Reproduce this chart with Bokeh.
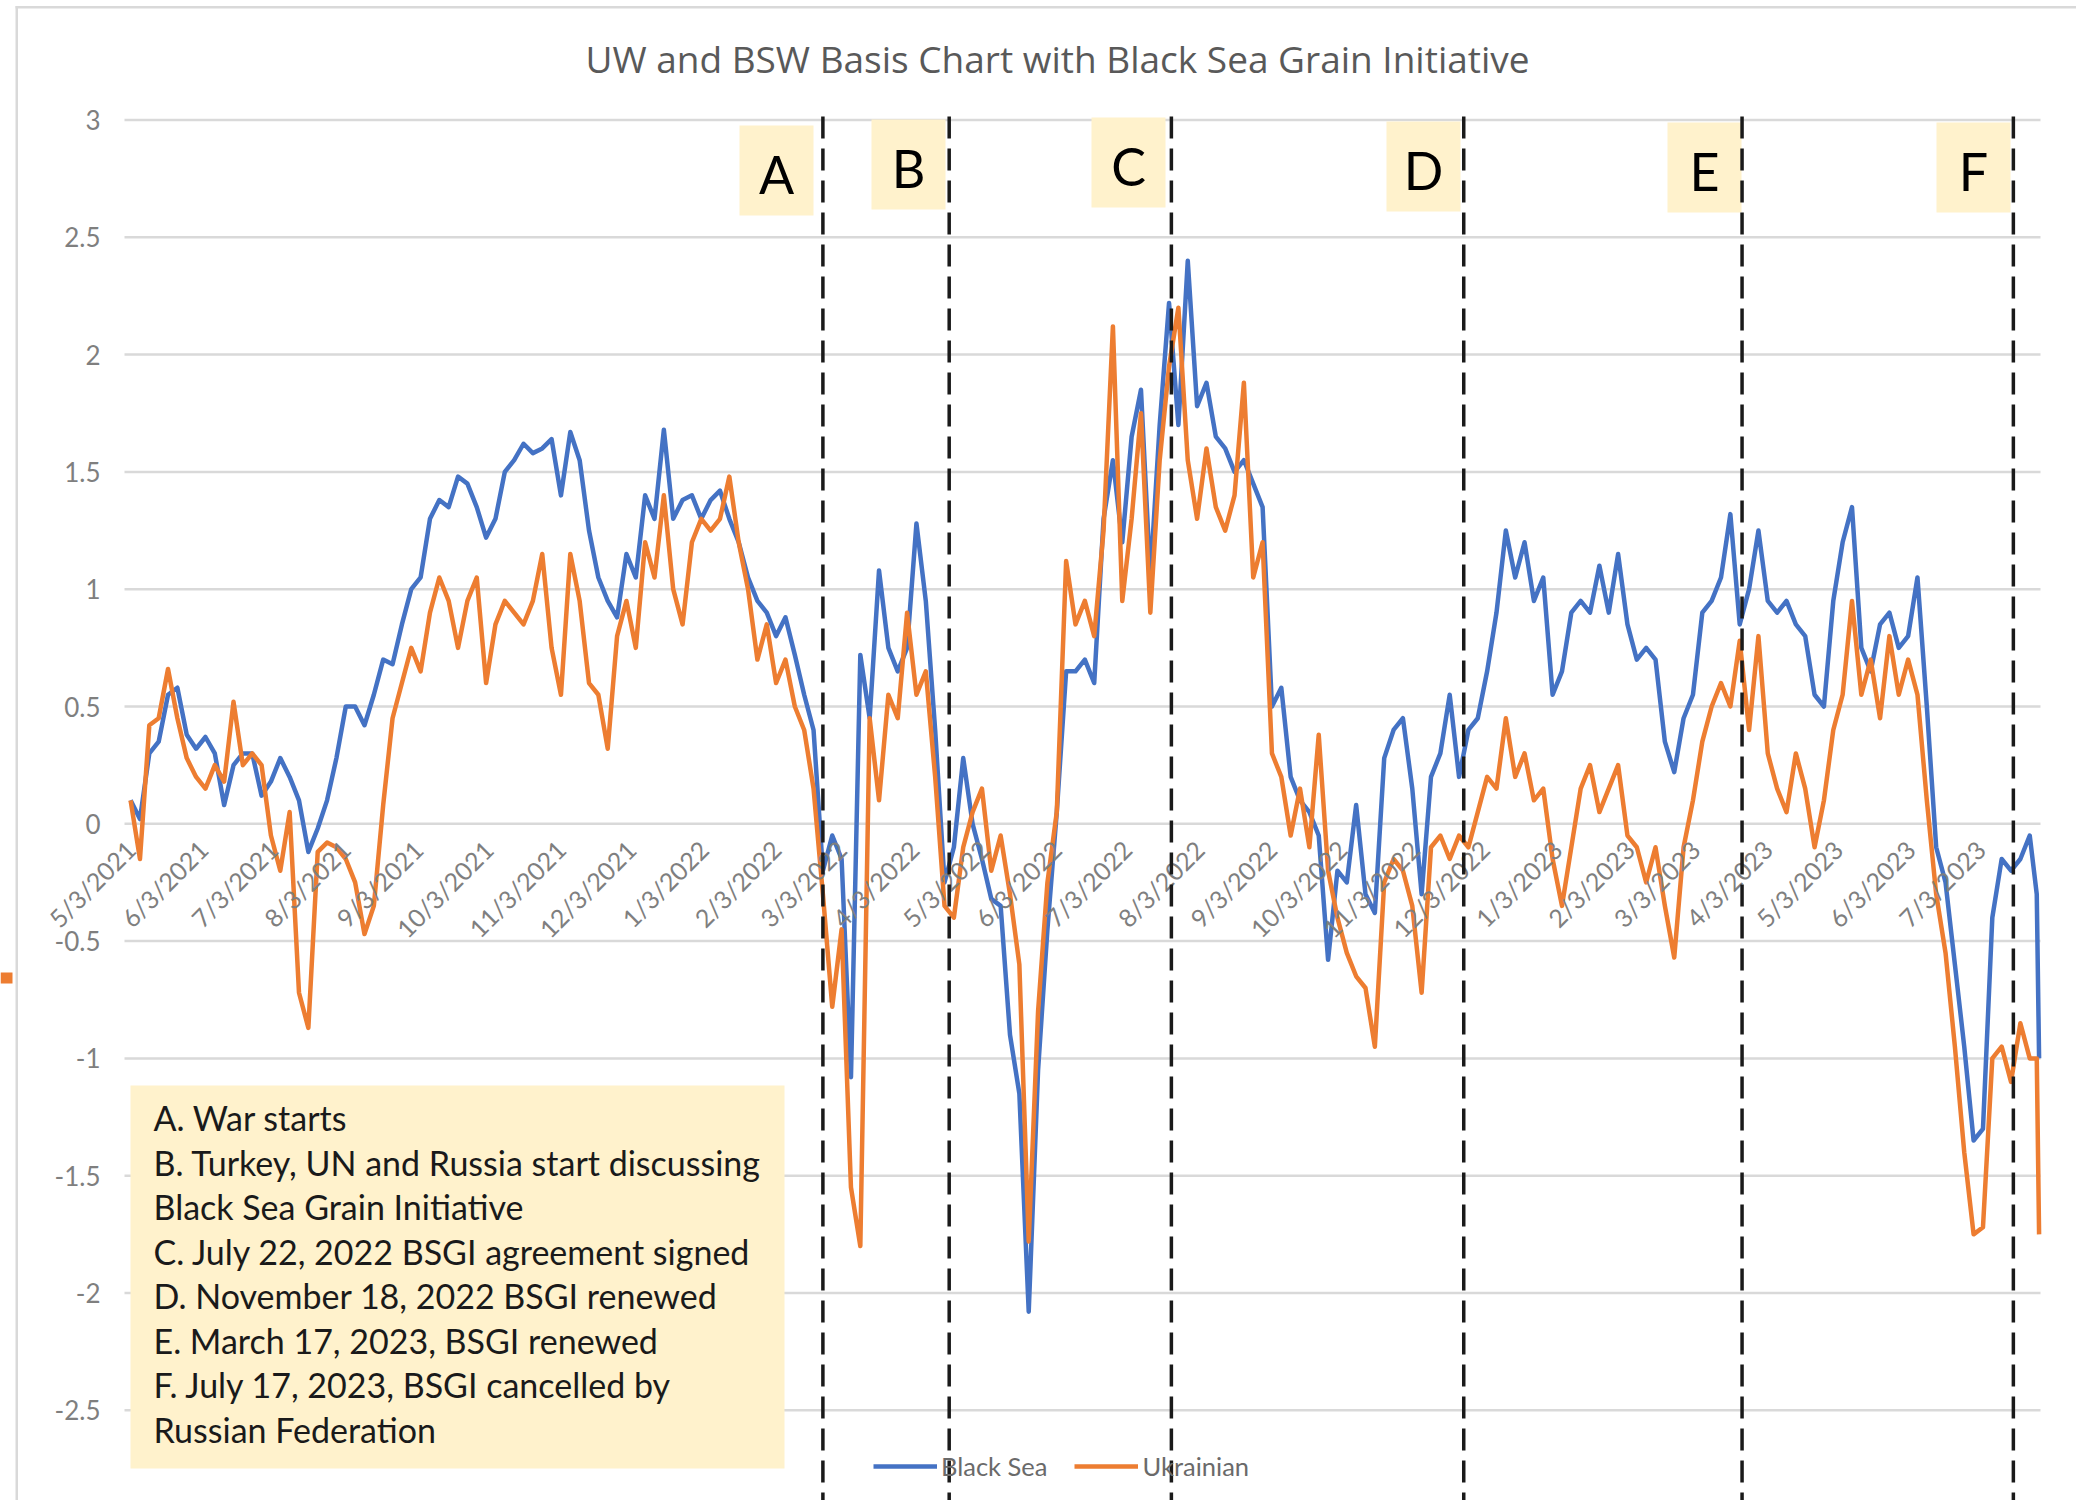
import math
from datetime import datetime, timezone

from bokeh.plotting import figure
from bokeh.models import (Range1d, FixedTicker, CustomJSTickFormatter, BoxAnnotation,
                          Label, ColumnDataSource, Legend, LegendItem, LinearAxis)
from bokeh.embed import file_html
from bokeh.resources import INLINE

# ---------------- data ----------------
dates = [
    "2021-05-03", "2021-05-07", "2021-05-11", "2021-05-15", "2021-05-19", "2021-05-23", "2021-05-27", "2021-05-31",
    "2021-06-04", "2021-06-08", "2021-06-12", "2021-06-16", "2021-06-20", "2021-06-24", "2021-06-28",
    "2021-07-02", "2021-07-06", "2021-07-10", "2021-07-14", "2021-07-18", "2021-07-22", "2021-07-26", "2021-07-30",
    "2021-08-03", "2021-08-07", "2021-08-11", "2021-08-15", "2021-08-19", "2021-08-23", "2021-08-27", "2021-08-31",
    "2021-09-04", "2021-09-08", "2021-09-12", "2021-09-16", "2021-09-20", "2021-09-24", "2021-09-28",
    "2021-10-02", "2021-10-06", "2021-10-10", "2021-10-14", "2021-10-18", "2021-10-22", "2021-10-26", "2021-10-30",
    "2021-11-03", "2021-11-07", "2021-11-11", "2021-11-15", "2021-11-19", "2021-11-23", "2021-11-27",
    "2021-12-01", "2021-12-05", "2021-12-09", "2021-12-13", "2021-12-17", "2021-12-21", "2021-12-25", "2021-12-29",
    "2022-01-02", "2022-01-06", "2022-01-10", "2022-01-14", "2022-01-18", "2022-01-22", "2022-01-26", "2022-01-30",
    "2022-02-03", "2022-02-07", "2022-02-11", "2022-02-15", "2022-02-19", "2022-02-23", "2022-02-27",
    "2022-03-03", "2022-03-07", "2022-03-11", "2022-03-15", "2022-03-19", "2022-03-23", "2022-03-27", "2022-03-31",
    "2022-04-04", "2022-04-08", "2022-04-12", "2022-04-16", "2022-04-20", "2022-04-24", "2022-04-28",
    "2022-05-02", "2022-05-06", "2022-05-10", "2022-05-14", "2022-05-18", "2022-05-22", "2022-05-26", "2022-05-30",
    "2022-06-03", "2022-06-07", "2022-06-11", "2022-06-15", "2022-06-19", "2022-06-23", "2022-06-27",
    "2022-07-01", "2022-07-05", "2022-07-09", "2022-07-13", "2022-07-17", "2022-07-21", "2022-07-25", "2022-07-29",
    "2022-08-02", "2022-08-06", "2022-08-10", "2022-08-14", "2022-08-18", "2022-08-22", "2022-08-26", "2022-08-30",
    "2022-09-03", "2022-09-07", "2022-09-11", "2022-09-15", "2022-09-19", "2022-09-23", "2022-09-27",
    "2022-10-01", "2022-10-05", "2022-10-09", "2022-10-13", "2022-10-17", "2022-10-21", "2022-10-25", "2022-10-29",
    "2022-11-02", "2022-11-06", "2022-11-10", "2022-11-14", "2022-11-18", "2022-11-22", "2022-11-26", "2022-11-30",
    "2022-12-04", "2022-12-08", "2022-12-12", "2022-12-16", "2022-12-20", "2022-12-24", "2022-12-28",
    "2023-01-01", "2023-01-05", "2023-01-09", "2023-01-13", "2023-01-17", "2023-01-21", "2023-01-25", "2023-01-29",
    "2023-02-02", "2023-02-06", "2023-02-10", "2023-02-14", "2023-02-18", "2023-02-22", "2023-02-26",
    "2023-03-02", "2023-03-06", "2023-03-10", "2023-03-14", "2023-03-18", "2023-03-22", "2023-03-26", "2023-03-30",
    "2023-04-03", "2023-04-07", "2023-04-11", "2023-04-15", "2023-04-19", "2023-04-23", "2023-04-27",
    "2023-05-01", "2023-05-05", "2023-05-09", "2023-05-13", "2023-05-17", "2023-05-21", "2023-05-25", "2023-05-29",
    "2023-06-02", "2023-06-06", "2023-06-10", "2023-06-14", "2023-06-18", "2023-06-22", "2023-06-26", "2023-06-30",
    "2023-07-04", "2023-07-08", "2023-07-12", "2023-07-16", "2023-07-20", "2023-07-24", "2023-07-27", "2023-07-28",
]

black_sea = [
    0.10, 0.02, 0.30, 0.35, 0.55, 0.58, 0.38, 0.32,
    0.37, 0.30, 0.08, 0.25, 0.30, 0.30, 0.12,
    0.18, 0.28, 0.20, 0.10, -0.12, -0.02, 0.10, 0.28,
    0.50, 0.50, 0.42, 0.55, 0.70, 0.68, 0.85, 1.00,
    1.05, 1.30, 1.38, 1.35, 1.48, 1.45, 1.35,
    1.22, 1.30, 1.50, 1.55, 1.62, 1.58, 1.60, 1.64,
    1.40, 1.67, 1.55, 1.25, 1.05, 0.95, 0.88,
    1.15, 1.05, 1.40, 1.30, 1.68, 1.30, 1.38, 1.40,
    1.30, 1.38, 1.42, 1.30, 1.20, 1.05, 0.95, 0.90,
    0.80, 0.88, 0.72, 0.55, 0.40, -0.20, -0.05,
    -0.15, -1.08, 0.72, 0.45, 1.08, 0.75, 0.65, 0.75,
    1.28, 0.95, 0.40, -0.25, -0.10, 0.28, 0.00,
    -0.15, -0.32, -0.35, -0.90, -1.15, -2.08, -1.05, -0.45,
    0.05, 0.65, 0.65, 0.70, 0.60, 1.30, 1.55,
    1.20, 1.65, 1.85, 1.05, 1.70, 2.22, 1.70, 2.40,
    1.78, 1.88, 1.65, 1.60, 1.50, 1.55, 1.45, 1.35,
    0.50, 0.58, 0.20, 0.10, 0.05, -0.05, -0.58,
    -0.20, -0.25, 0.08, -0.30, -0.38, 0.28, 0.40, 0.45,
    0.15, -0.30, 0.20, 0.30, 0.55, 0.20, 0.40, 0.45,
    0.65, 0.90, 1.25, 1.05, 1.20, 0.95, 1.05,
    0.55, 0.65, 0.90, 0.95, 0.90, 1.10, 0.90, 1.15,
    0.85, 0.70, 0.75, 0.70, 0.35, 0.22, 0.45,
    0.55, 0.90, 0.95, 1.05, 1.32, 0.85, 1.00, 1.25,
    0.95, 0.90, 0.95, 0.85, 0.80, 0.55, 0.50,
    0.95, 1.20, 1.35, 0.75, 0.65, 0.85, 0.90, 0.75,
    0.80, 1.05, 0.50, -0.10, -0.25, -0.60, -0.95, -1.35,
    -1.30, -0.40, -0.15, -0.20, -0.15, -0.05, -0.30, -1.00,
]

ukrainian = [
    0.10, -0.15, 0.42, 0.45, 0.66, 0.45, 0.28, 0.20,
    0.15, 0.25, 0.18, 0.52, 0.25, 0.30, 0.25,
    -0.05, -0.20, 0.05, -0.72, -0.87, -0.12, -0.08, -0.10,
    -0.15, -0.25, -0.47, -0.35, 0.08, 0.45, 0.60, 0.75,
    0.65, 0.90, 1.05, 0.95, 0.75, 0.95, 1.05,
    0.60, 0.85, 0.95, 0.90, 0.85, 0.95, 1.15, 0.75,
    0.55, 1.15, 0.95, 0.60, 0.55, 0.32, 0.80,
    0.95, 0.75, 1.20, 1.05, 1.40, 1.00, 0.85, 1.20,
    1.30, 1.25, 1.30, 1.48, 1.20, 1.00, 0.70, 0.85,
    0.60, 0.70, 0.50, 0.40, 0.15, -0.30, -0.78,
    -0.45, -1.55, -1.80, 0.45, 0.10, 0.55, 0.45, 0.90,
    0.55, 0.65, 0.20, -0.35, -0.40, -0.10, 0.05,
    0.15, -0.20, -0.05, -0.30, -0.60, -1.78, -0.80, -0.25,
    0.05, 1.12, 0.85, 0.95, 0.80, 1.25, 2.12,
    0.95, 1.30, 1.75, 0.90, 1.55, 1.95, 2.20, 1.55,
    1.30, 1.60, 1.35, 1.25, 1.40, 1.88, 1.05, 1.20,
    0.30, 0.20, -0.05, 0.15, -0.10, 0.38, -0.20,
    -0.40, -0.55, -0.65, -0.70, -0.95, -0.25, -0.15, -0.20,
    -0.35, -0.72, -0.10, -0.05, -0.15, -0.05, -0.10, 0.05,
    0.20, 0.15, 0.45, 0.20, 0.30, 0.10, 0.15,
    -0.15, -0.35, -0.10, 0.15, 0.25, 0.05, 0.15, 0.25,
    -0.05, -0.10, -0.25, -0.10, -0.35, -0.57, -0.10,
    0.10, 0.35, 0.50, 0.60, 0.50, 0.78, 0.40, 0.80,
    0.30, 0.15, 0.05, 0.30, 0.15, -0.10, 0.10,
    0.40, 0.55, 0.95, 0.55, 0.70, 0.45, 0.80, 0.55,
    0.70, 0.55, 0.10, -0.30, -0.55, -0.95, -1.40, -1.75,
    -1.72, -1.00, -0.95, -1.10, -0.85, -1.00, -1.00, -1.75,
]

tick_dates = [
    "2021-05-03", "2021-06-03", "2021-07-03", "2021-08-03", "2021-09-03", "2021-10-03", "2021-11-03",
    "2021-12-03", "2022-01-03", "2022-02-03", "2022-03-03", "2022-04-03", "2022-05-03", "2022-06-03",
    "2022-07-03", "2022-08-03", "2022-09-03", "2022-10-03", "2022-11-03", "2022-12-03", "2023-01-03",
    "2023-02-03", "2023-03-03", "2023-04-03", "2023-05-03", "2023-06-03", "2023-07-03",
]
tick_labels = [
    "5/3/2021", "6/3/2021", "7/3/2021", "8/3/2021", "9/3/2021", "10/3/2021", "11/3/2021",
    "12/3/2021", "1/3/2022", "2/3/2022", "3/3/2022", "4/3/2022", "5/3/2022", "6/3/2022",
    "7/3/2022", "8/3/2022", "9/3/2022", "10/3/2022", "11/3/2022", "12/3/2022", "1/3/2023",
    "2/3/2023", "3/3/2023", "4/3/2023", "5/3/2023", "6/3/2023", "7/3/2023",
]
y_ticks = [-2.5, -2, -1.5, -1, -0.5, 0, 0.5, 1, 1.5, 2, 2.5, 3]

event_letters = ["A", "B", "C", "D", "E", "F"]
event_dates = ["2022-02-23", "2022-04-18", "2022-07-22", "2022-11-24", "2023-03-23", "2023-07-17"]

notes = [
    "A. War starts",
    "B. Turkey, UN and Russia start discussing",
    "Black Sea Grain Initiative",
    "C. July 22, 2022 BSGI agreement signed",
    "D. November  18, 2022 BSGI renewed",
    "E. March 17, 2023, BSGI renewed",
    "F. July 17, 2023, BSGI cancelled by",
    "Russian Federation",
]
title_text = "UW and BSW Basis Chart with Black Sea Grain Initiative"
series_names = ["Black Sea", "Ukrainian"]

# ---------------- layout / style ----------------
DAY = 86400000.0


def ms(s):
    return datetime.strptime(s, "%Y-%m-%d").replace(tzinfo=timezone.utc).timestamp() * 1000.0


W, H = 2076, 1500
BASE = ms("2021-05-03")
BASE_PX = 130.1          # page x of the first date
PX_PER_DAY = 2.33884
Y3_PX = 119.5            # page y of the value 3
PX_PER_UNIT = 234.6


def px_x(page_x):  # page pixel -> x data value (for annotation placement)
    return BASE + (page_x - BASE_PX) / PX_PER_DAY * DAY


def px_y(page_y):  # page pixel -> y data value (for annotation placement)
    return 3 - (page_y - Y3_PX) / PX_PER_UNIT


PLOT_L, PLOT_R = 124, 2040   # plot-area edges (page px)

BLUE, ORANGE = "#4472C4", "#ED7D31"
BOX_FILL = "#FFF2CC"
FONT = "Lato"
GRAY = "#7f7f7f"
GRID = "#d9d9d9"

p = figure(width=W, height=H, output_backend="svg", toolbar_location=None,
           x_range=Range1d(px_x(0), px_x(W)), y_range=Range1d(px_y(H), px_y(0)),
           x_axis_location=None, y_axis_location=None,
           min_border_left=0, min_border_right=0, min_border_top=0, min_border_bottom=0,
           background_fill_color="white", border_fill_color="white",
           outline_line_color=None)
p.xgrid.visible = False
p.ygrid.visible = False

# chart border (top / left) and the slide remnant on the far left
p.add_layout(BoxAnnotation(left=px_x(15), right=px_x(17.5), top=px_y(5.5), bottom=px_y(H),
                           fill_color=GRID, fill_alpha=1.0, line_color=None, level="underlay"))
p.add_layout(BoxAnnotation(left=px_x(15), right=px_x(W), top=px_y(5.5), bottom=px_y(8),
                           fill_color=GRID, fill_alpha=1.0, line_color=None, level="underlay"))
p.add_layout(BoxAnnotation(left=px_x(0), right=px_x(12), top=px_y(972), bottom=px_y(983),
                           fill_color=ORANGE, fill_alpha=1.0, line_color=None, level="underlay"))

# horizontal gridlines across the plot area
p.segment(x0=[px_x(PLOT_L)] * len(y_ticks), x1=[px_x(PLOT_R)] * len(y_ticks),
          y0=y_ticks, y1=y_ticks, line_color=GRID, line_width=2.5)

# value axis
ya = LinearAxis(fixed_location=px_x(PLOT_L), ticker=FixedTicker(ticks=y_ticks),
                formatter=CustomJSTickFormatter(code="return tick.toString();"),
                axis_line_color=None, major_tick_line_color=None, minor_tick_line_color=None,
                major_tick_out=0, major_tick_in=0, major_label_standoff=24,
                major_label_text_font=FONT, major_label_text_font_size="26px",
                major_label_text_color=GRAY)
p.add_layout(ya, "left")

# date axis crossing at zero
tick_ms = [ms(d) for d in tick_dates]
xa = LinearAxis(fixed_location=0,
                ticker=FixedTicker(ticks=tick_ms),
                formatter=CustomJSTickFormatter(args=dict(tvals=tick_ms, tlabs=tick_labels),
                                                code="const i = tvals.indexOf(tick); return i >= 0 ? tlabs[i] : '';"),
                major_label_orientation=math.pi / 4,
                axis_line_color=None, major_tick_line_color=None, minor_tick_line_color=None,
                major_tick_out=0, major_tick_in=0, major_label_standoff=21,
                major_label_text_font=FONT, major_label_text_font_size="25px",
                major_label_text_color=GRAY)
p.add_layout(xa, "below")

# title
p.add_layout(Label(x=px_x(1057), y=px_y(58), text=title_text, text_align="center",
                   text_baseline="middle", text_font="Open Sans", text_font_size="37px",
                   text_color="#595959"))

# series
src = ColumnDataSource(dict(x=[ms(d) for d in dates], b=black_sea, u=ukrainian))
rb = p.line("x", "b", source=src, line_color=BLUE, line_width=4.5, line_join="round")
ru = p.line("x", "u", source=src, line_color=ORANGE, line_width=4.5, line_join="round")

# event letter boxes
box_left_px = [739, 871, 1091, 1386, 1667, 1936]
box_top_px = [125, 119, 117, 121, 122, 122]
BOX_W, BOX_H = 74, 90
for lt, L, T in zip(event_letters, box_left_px, box_top_px):
    p.add_layout(BoxAnnotation(left=px_x(L), right=px_x(L + BOX_W), top=px_y(T), bottom=px_y(T + BOX_H),
                               fill_color=BOX_FILL, fill_alpha=1.0, line_color=None))
    p.add_layout(Label(x=px_x(L + BOX_W / 2), y=px_y(T + BOX_H / 2 + 3), text=lt, text_align="center",
                       text_baseline="middle", text_font=FONT, text_font_size="52px",
                       text_color="#000000"))

# event dashed lines, from the top gridline down
ev_ms = [ms(d) for d in event_dates]
ev = p.segment(x0=ev_ms, x1=ev_ms, y0=[px_y(116)] * len(ev_ms), y1=[px_y(H)] * len(ev_ms),
               line_color="#1a1a1a", line_width=3.5, line_dash="22 10")
ev.level = "overlay"

# notes box
p.add_layout(BoxAnnotation(left=px_x(130), right=px_x(784), top=px_y(1085), bottom=px_y(1468),
                           fill_color=BOX_FILL, fill_alpha=1.0, line_color=None))
for i, line in enumerate(notes):
    p.add_layout(Label(x=px_x(153), y=px_y(1117 + i * 44.5), text=line, text_align="left",
                       text_baseline="alphabetic", text_font=FONT, text_font_size="34px",
                       text_color="#1a1a1a"))

# legend
legend = Legend(items=[LegendItem(label=series_names[0], renderers=[rb]),
                       LegendItem(label=series_names[1], renderers=[ru])],
                orientation="horizontal", location=(873, 19), padding=0, margin=0,
                spacing=27, glyph_width=64, glyph_height=24, label_standoff=4,
                label_text_font=FONT, label_text_font_size="25.5px", label_text_color="#6a6a6a",
                background_fill_alpha=0, border_line_color=None)
p.add_layout(legend)

open("out.html", "w").write(file_html(p, INLINE))
